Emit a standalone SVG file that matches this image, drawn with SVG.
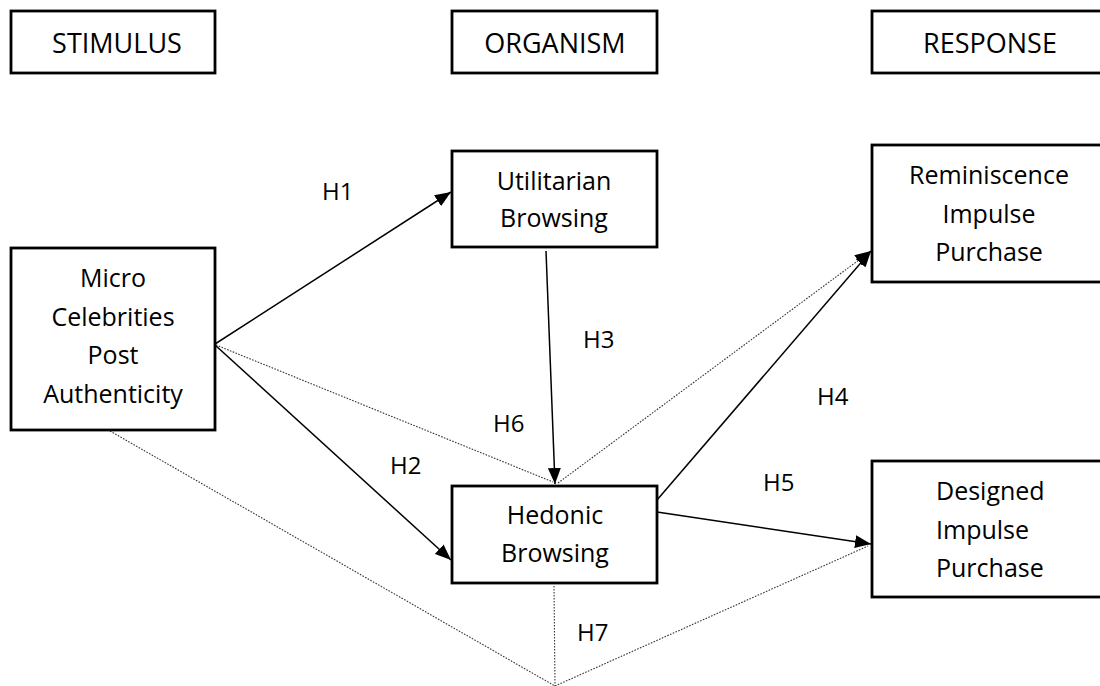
<svg xmlns="http://www.w3.org/2000/svg" width="1100" height="686" viewBox="0 0 1100 686">
<style>
.box{fill:#fff;stroke:#000;stroke-width:2.8}
.t{font-family:"Open Sans","Liberation Sans",sans-serif;font-size:25px;fill:#000;text-anchor:middle}
.th{font-family:"Open Sans","Liberation Sans",sans-serif;font-size:27px;fill:#000;text-anchor:middle}
.tl{font-family:"Open Sans","Liberation Sans",sans-serif;font-size:25px;fill:#000;text-anchor:start}
.lab{font-family:"Open Sans","Liberation Sans",sans-serif;font-size:24px;fill:#000}
.solid{fill:none;stroke:#000;stroke-width:1.5}
.dot{fill:none;stroke:#333;stroke-width:1.1;stroke-dasharray:1.6 1.4}
</style>
<defs>
<marker id="arr" markerUnits="userSpaceOnUse" markerWidth="17" markerHeight="13" refX="16" refY="6.5" orient="auto">
<path d="M0,0 L16,6.5 L0,13 z" fill="#000"/>
</marker>
</defs>
<rect width="1100" height="686" fill="#fff"/>
<g id="connectors">
<line class="solid" x1="215" y1="344" x2="451" y2="192" marker-end="url(#arr)"/>
<line class="solid" x1="215" y1="345" x2="451" y2="560" marker-end="url(#arr)"/>
<line class="solid" x1="546" y1="251" x2="555" y2="484" marker-end="url(#arr)"/>
<line class="dot" x1="216" y1="345" x2="553" y2="482"/>
<line class="dot" x1="558" y1="483" x2="871" y2="251" marker-end="url(#arr)"/>
<line class="solid" x1="657" y1="500" x2="871" y2="251" marker-end="url(#arr)"/>
<line class="solid" x1="657" y1="512" x2="871" y2="544" marker-end="url(#arr)"/>
<line class="dot" x1="110" y1="431" x2="555" y2="686"/>
<line class="dot" x1="554" y1="586" x2="555" y2="686"/>
<line class="dot" x1="555" y1="686" x2="868" y2="546"/>
</g>
<g id="labels">
<text class="lab" x="322" y="200">H1</text>
<text class="lab" x="390" y="474">H2</text>
<text class="lab" x="583" y="348">H3</text>
<text class="lab" x="817" y="405">H4</text>
<text class="lab" x="763" y="491">H5</text>
<text class="lab" x="493" y="432">H6</text>
<text class="lab" x="577" y="641">H7</text>
</g>
<g id="stimulus">
<rect class="box" x="11" y="11" width="204" height="62"/>
<text class="th" x="117" y="53">STIMULUS</text>
</g>
<g id="organism">
<rect class="box" x="452" y="11" width="205" height="62"/>
<text class="th" x="555" y="53">ORGANISM</text>
</g>
<g id="response">
<rect class="box" x="872" y="11" width="240" height="62"/>
<text class="th" x="990" y="53">RESPONSE</text>
</g>
<g id="micro">
<rect class="box" x="11" y="248" width="204" height="182"/>
<text class="t" x="113" y="287">Micro</text>
<text class="t" x="113" y="326">Celebrities</text>
<text class="t" x="113" y="364">Post</text>
<text class="t" x="113" y="403">Authenticity</text>
</g>
<g id="utilitarian">
<rect class="box" x="452" y="151" width="205" height="96"/>
<text class="t" x="554" y="190">Utilitarian</text>
<text class="t" x="554" y="227">Browsing</text>
</g>
<g id="hedonic">
<rect class="box" x="452" y="486" width="205" height="97"/>
<text class="t" x="555" y="524">Hedonic</text>
<text class="t" x="555" y="562">Browsing</text>
</g>
<g id="reminiscence">
<rect class="box" x="872" y="145" width="240" height="137"/>
<text class="t" x="989" y="184">Reminiscence</text>
<text class="t" x="989" y="223">Impulse</text>
<text class="t" x="989" y="261">Purchase</text>
</g>
<g id="designed">
<rect class="box" x="872" y="461" width="240" height="136"/>
<text class="tl" x="936" y="500">Designed</text>
<text class="tl" x="936" y="539">Impulse</text>
<text class="tl" x="936" y="577">Purchase</text>
</g>
</svg>
